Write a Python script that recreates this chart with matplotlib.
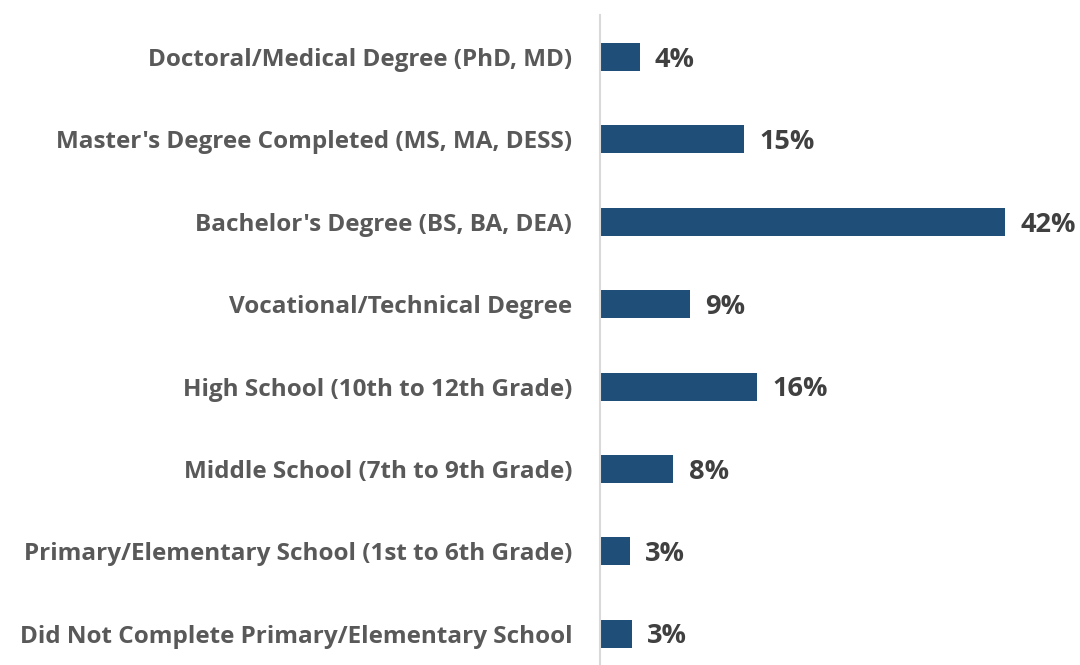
import matplotlib.pyplot as plt
import numpy as np

# education levels, top to bottom as shown
categories = [
    'Doctoral/Medical Degree (PhD, MD)',
    "Master's Degree Completed (MS, MA, DESS)",
    "Bachelor's Degree (BS, BA, DEA)",
    'Vocational/Technical Degree',
    'High School (10th to 12th Grade)',
    'Middle School (7th to 9th Grade)',
    'Primary/Elementary School (1st to 6th Grade)',
    'Did Not Complete Primary/Elementary School',
]
# bar lengths; labels are the rounded shares
values = [4.1, 14.9, 42.0, 9.3, 16.3, 7.6, 3.1, 3.3]
value_labels = ['4%', '15%', '42%', '9%', '16%', '8%', '3%', '3%']

plt.rcParams['font.family'] = ['Open Sans', 'DejaVu Sans']

fig = plt.figure(figsize=(10.8, 6.65), dpi=100)
ax = fig.add_axes([600 / 1080, 0, 434 / 1080, 650 / 665])

y = np.arange(len(categories))[::-1]
bars = ax.barh(y, values, height=0.34, color='#1F4E79')

ax.set_xlim(0, 45)
ax.set_ylim(-0.38, 7.51)
ax.set_yticks(y)
ax.set_yticklabels(categories, fontsize=17.5, fontweight='bold', color='#595959')
ax.tick_params(axis='y', length=0, pad=20)
ax.set_xticks([])

for s in ['top', 'right', 'bottom']:
    ax.spines[s].set_visible(False)
ax.spines['left'].set_color('#D9D9D9')
ax.spines['left'].set_linewidth(1.5)

for rect, lab in zip(bars, value_labels):
    ax.annotate(lab, xy=(rect.get_width(), rect.get_y() + rect.get_height() / 2),
                xytext=(11, -2), textcoords='offset points',
                ha='left', va='center', fontsize=19.5, fontweight='bold',
                color='#404040', annotation_clip=False)

plt.savefig('out.png', dpi=100)
